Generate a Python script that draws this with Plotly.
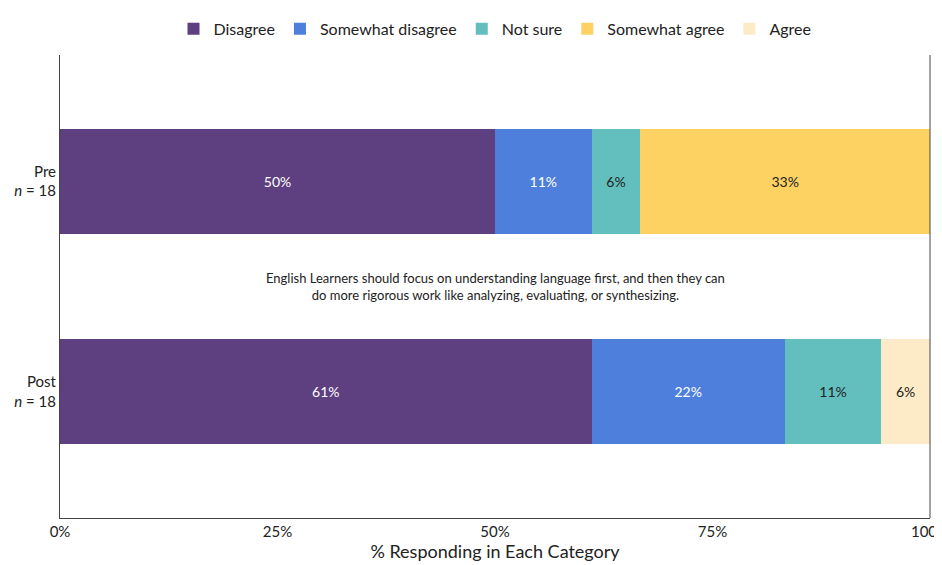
import plotly.graph_objects as go

groups = ["Post", "Pre"]
group_labels = ["Post<br><i>n</i> = 18", "Pre<br><i>n</i> = 18"]
categories = ["Disagree", "Somewhat disagree", "Not sure", "Somewhat agree", "Agree"]
values = {
    "Disagree": [61.1, 50.0],
    "Somewhat disagree": [22.2, 11.1],
    "Not sure": [11.1, 5.6],
    "Somewhat agree": [0, 33.3],
    "Agree": [5.6, 0],
}
colors = ["#5E3F80", "#4F7FDD", "#63BFBD", "#FDD262", "#FDEBC8"]
text_colors = ["white", "white", "#222222", "#222222", "#222222"]

fig = go.Figure()
for cat, col, tc in zip(categories, colors, text_colors):
    vals = values[cat]
    fig.add_trace(go.Bar(
        y=groups, x=vals, name=cat, orientation="h", marker_color=col,
        marker_line_width=0,
        text=[f"{round(v)}%" if v > 0 else "" for v in vals],
        textposition="inside", insidetextanchor="middle",
        textfont=dict(color=tc, size=14), hoverinfo="skip",
    ))

fig.add_annotation(
    x=50, y=0.5, xref="x", yref="y",
    text="English Learners should focus on understanding language first, and then they can<br>do more rigorous work like analyzing, evaluating, or synthesizing.",
    showarrow=False, font=dict(size=13, color="#222222"), align="center",
)

fig.update_layout(
    barmode="stack", bargap=0.5,
    width=942, height=565,
    margin=dict(l=52, r=20, t=47, b=55, autoexpand=False),
    plot_bgcolor="white", paper_bgcolor="white",
    font=dict(family="Lato, sans-serif", size=15, color="#222222"),
    legend=dict(orientation="h", x=0.5, xanchor="center", y=1.02, yanchor="bottom",
                font=dict(size=16), traceorder="normal", itemwidth=30),
    xaxis=dict(range=[0, 100], tickvals=[0, 25, 50, 75, 100],
               ticktext=["0%", "25%", "50%", "75%", "100%"],
               title=dict(text="% Responding in Each Category", standoff=2),
               showgrid=False, zeroline=False, showline=True, linecolor="#444",
               ticks="", automargin=False),
    yaxis=dict(categoryorder="array", categoryarray=groups,
               tickvals=groups, ticktext=group_labels, range=[-0.6, 1.6],
               showgrid=False, showline=True, linecolor="#444", ticks="",
               automargin=False, tickfont=dict(size=15)),
)
fig.add_shape(type="line", xref="paper", yref="paper", x0=1, x1=1, y0=0, y1=1,
              line=dict(color="#444", width=1))
fig.write_html("out.html")
